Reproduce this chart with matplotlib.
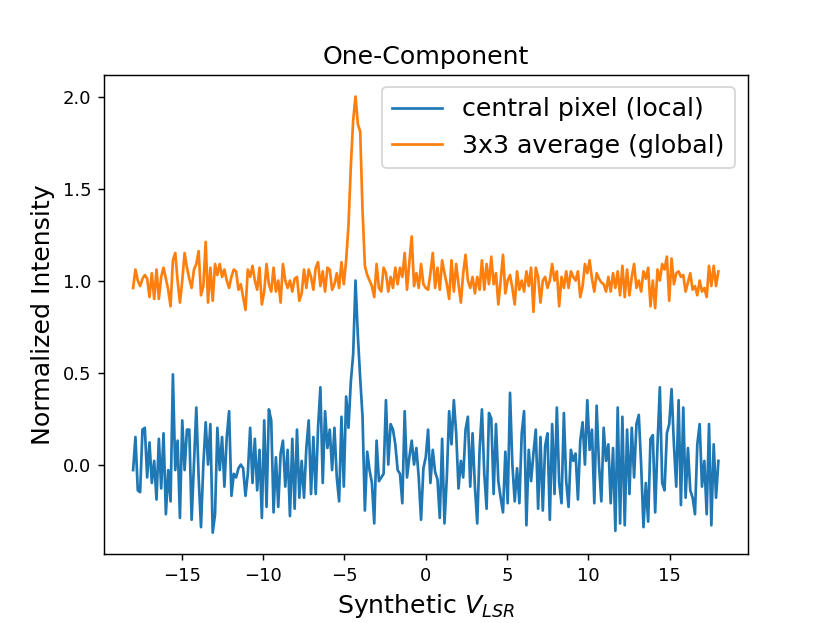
import numpy as np
import matplotlib
matplotlib.use("Agg")
import matplotlib.pyplot as plt

# velocity channels (km/s)
v_start, v_stop, n_chan = -18.0, 18.0, 251

central_pixel = [
    -0.03, 0.15, -0.14, -0.15, 0.19, 0.2, -0.07, 0.12, -0.1, 0.02,
    -0.19, 0.14, -0.13, 0.17, -0.27, -0.03, -0.2, 0.49, -0.03, 0.13,
    -0.29, 0.24, -0.03, 0.19, 0.19, -0.3, 0.0, 0.31, -0.07, -0.34,
    0.0, 0.23, 0.0, 0.22, -0.37, -0.27, 0.2, -0.03, 0.15, -0.12,
    0.15, 0.29, -0.17, -0.05, -0.07, -0.02, 0.0, -0.02, -0.17, -0.05,
    0.2, -0.1, 0.14, -0.14, 0.08, -0.29, 0.24, -0.23, 0.3, 0.24,
    -0.26, 0.04, -0.23,
    0.06, 0.13, -0.12, 0.08, -0.28, 0.14, -0.24, 0.19, -0.18, 0.02,
    -0.18, 0.09, 0.24, -0.16, 0.15, -0.16, 0.2, 0.42, -0.1, 0.29,
    0.09, 0.19, -0.03, 0.2, -0.07, -0.2, 0.26, -0.12, 0.37, 0.2,
    0.45, 0.6, 1.0, 0.7, 0.47, 0.26, -0.25, 0.07, -0.03, -0.1,
    -0.32, 0.13, -0.09, -0.07, -0.05, 0.35, 0.0, 0.22, 0.19, 0.11,
    -0.03, -0.05, -0.21, 0.29, -0.07, 0.04, 0.13, 0.0, 0.09, -0.07,
    -0.3, -0.02, 0.04,
    0.19, -0.1, 0.08, -0.04, -0.08, -0.29, 0.14, -0.32, -0.07, 0.29,
    0.11, 0.35, 0.17, -0.13, 0.02, -0.07, 0.19, 0.26, -0.12, 0.17,
    -0.12, -0.32, 0.08, 0.3, -0.05, -0.24, 0.28, 0.25, -0.16, 0.22,
    -0.09, -0.18, -0.26, 0.07, -0.21, 0.39, 0.0, -0.2, -0.02, -0.21,
    0.17, 0.29, -0.33, 0.08, -0.09, 0.06, 0.19, -0.24, 0.15, -0.25,
    0.1, 0.17, -0.3, 0.22, -0.16, 0.31, -0.1, -0.21, 0.28, -0.09,
    -0.23, 0.08, 0.02,
    0.06, -0.19, 0.13, 0.23, 0.0, 0.35, 0.08, 0.19, -0.21, 0.32,
    0.0, -0.2, 0.2, 0.02, 0.11, -0.21, 0.09, -0.36, 0.31, -0.32,
    0.26, -0.33, 0.19, -0.16, 0.2, -0.07, 0.22, 0.27, 0.0, -0.34,
    -0.1, -0.31, 0.14, 0.16, -0.26, 0.11, 0.42, -0.1, -0.14, 0.17,
    0.22, 0.41, 0.11, -0.12, 0.35, -0.22, 0.31, -0.18, 0.09, -0.14,
    -0.18, -0.27, 0.11, 0.22, -0.12, 0.02, -0.27, 0.22, -0.33, 0.11,
    -0.18, 0.02,
]

average_3x3 = [
    0.96, 1.06, 1.0, 0.97, 1.01, 1.03, 1.01, 0.91, 1.04, 0.9,
    1.06, 0.9, 1.02, 1.07, 1.01, 0.95, 0.86, 1.11, 1.15, 1.0,
    0.88, 1.0, 1.15, 1.07, 1.01, 0.96, 1.06, 1.09, 1.16, 0.92,
    0.97, 1.21, 0.88, 1.07, 0.89, 1.09, 1.03, 1.09, 1.02, 1.06,
    1.0, 0.96, 1.02, 1.06, 1.05, 0.95, 0.98, 0.91, 0.84, 1.06,
    1.02, 1.08, 1.0, 0.95, 1.07, 0.87, 0.94, 1.09, 0.98, 0.94,
    1.07, 0.94, 1.0,
    0.88, 1.09, 1.0, 0.96, 1.0, 0.94, 1.01, 1.02, 0.89, 0.93,
    1.06, 0.96, 1.06, 1.02, 0.95, 1.07, 1.1, 0.97, 1.05, 0.94,
    1.07, 1.06, 0.95, 0.98, 1.04, 0.96, 1.1, 0.98, 1.11, 1.3,
    1.62, 1.87, 2.0, 1.85, 1.81, 1.38, 1.08, 1.03, 1.0, 0.97,
    0.91, 1.09, 0.96, 0.94, 1.07, 1.04, 0.94, 1.02, 0.96, 1.07,
    0.98, 1.07, 1.02, 1.15, 0.95, 1.1, 1.24, 0.97, 1.04, 0.96,
    1.09, 0.98, 0.96,
    0.95, 1.04, 1.15, 0.96, 1.07, 0.95, 1.11, 1.04, 0.98, 0.9,
    1.11, 0.94, 1.09, 0.98, 0.88, 1.04, 1.14, 1.0, 0.96, 1.02,
    0.93, 1.02, 0.95, 1.11, 0.95, 1.09, 0.98, 1.13, 0.98, 1.04,
    0.87, 1.0, 1.14, 0.93, 1.0, 1.03, 0.96, 0.87, 1.05, 0.95,
    1.0, 0.94, 1.05, 0.97, 1.07, 0.83, 1.07, 1.02, 0.88, 1.0,
    1.02, 0.96, 1.0, 1.09, 1.0, 1.05, 0.86, 1.02, 0.96, 1.05,
    0.96, 1.05, 1.02,
    1.0, 1.05, 0.91, 0.97, 1.09, 1.04, 1.11, 1.01, 0.94, 1.04,
    1.01, 0.99, 0.98, 0.94, 1.02, 0.94, 1.04, 0.96, 1.05, 0.92,
    1.08, 0.91, 1.06, 0.92, 1.02, 1.09, 0.96, 1.0, 0.94, 1.05,
    1.01, 1.07, 0.86, 1.0, 0.85, 1.06, 1.0, 1.09, 1.06, 1.13,
    0.89, 1.12, 0.98, 1.04, 1.05, 1.02, 1.03, 0.94, 0.99, 1.04,
    0.95, 0.97, 0.92, 1.0, 0.94, 0.96, 0.91, 1.08, 0.97, 1.08,
    0.97, 1.05,
]

labels = ["central pixel (local)", "3x3 average (global)"]
title = "One-Component"
xlabel = r"Synthetic $V_{LSR}$"
ylabel = "Normalized Intensity"

velocity = np.linspace(v_start, v_stop, n_chan)

fig, ax = plt.subplots(figsize=(6.4, 4.8), dpi=129.8)
ax.plot(velocity, central_pixel, color="#1f77b4", label=labels[0])
ax.plot(velocity, average_3x3, color="#ff7f0e", label=labels[1])
ax.set_title(title, fontsize=14)
ax.set_xlabel(xlabel, fontsize=14)
ax.set_ylabel(ylabel, fontsize=14)
ax.legend(loc="upper right", fontsize=14)
fig.savefig("out.png", dpi=129.8)
